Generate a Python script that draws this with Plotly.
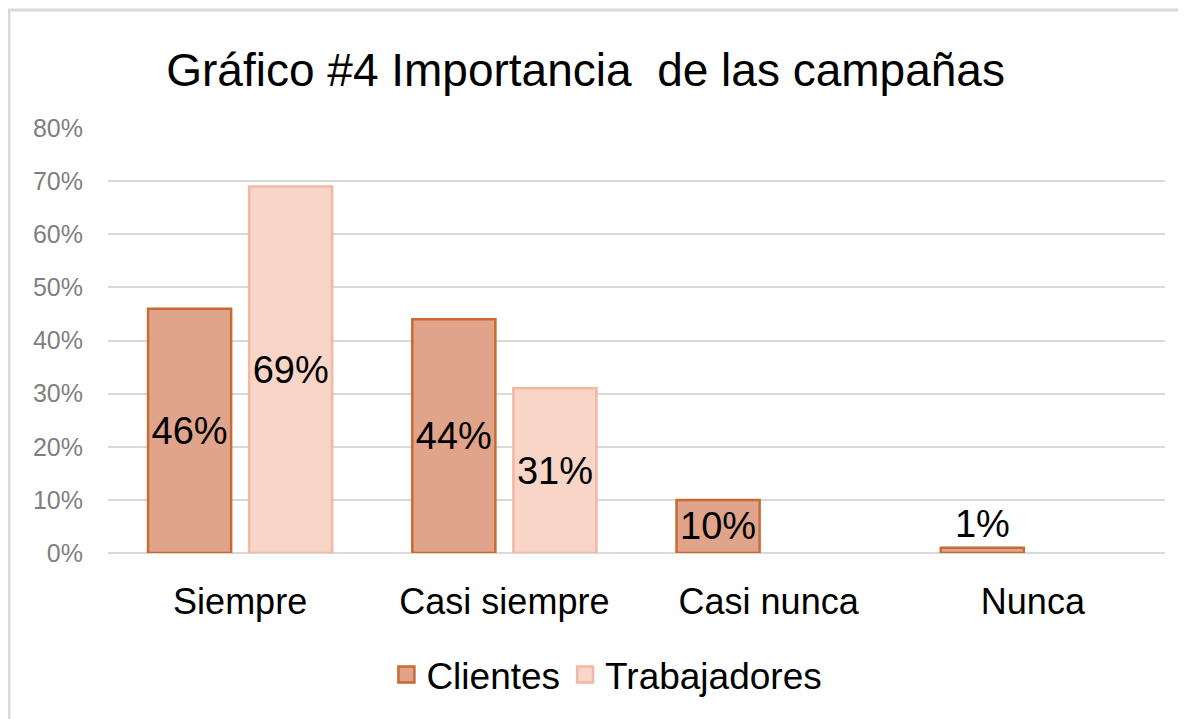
import plotly.graph_objects as go

categories = ["Siempre", "Casi siempre", "Casi nunca", "Nunca"]
clientes = [0.46, 0.44, 0.10, 0.01]
trabajadores = [0.69, 0.31, None, None]
clientes_labels = ["46%", "44%", "10%", "1%"]
trabajadores_labels = ["69%", "31%", "", ""]

FONT = "Liberation Sans, Arial, sans-serif"
C_FILL, C_LINE = "#e0a48b", "#c96a34"
T_FILL, T_LINE = "#f9d5c8", "#f1b9a5"

fig = go.Figure()
fig.add_trace(go.Bar(
    name="Clientes", x=categories, y=clientes, showlegend=False,
    text=clientes_labels, textposition=["inside", "inside", "inside", "outside"],
    insidetextanchor="middle", constraintext="none", cliponaxis=False, textangle=0,
    textfont=dict(family=FONT, size=38, color="#000000"),
    marker=dict(color=C_FILL, line=dict(color=C_LINE, width=2.5)),
))
fig.add_trace(go.Bar(
    name="Trabajadores", x=categories, y=trabajadores, showlegend=False,
    text=trabajadores_labels, textposition="inside",
    insidetextanchor="middle", constraintext="none", cliponaxis=False, textangle=0,
    textfont=dict(family=FONT, size=38, color="#000000"),
    marker=dict(color=T_FILL, line=dict(color=T_LINE, width=2.5)),
))
# legend entries with larger square keys
for nm, fc, lc in [("Clientes", C_FILL, C_LINE), ("Trabajadores", T_FILL, T_LINE)]:
    fig.add_trace(go.Scatter(
        name=nm, x=[None], y=[None], mode="markers",
        marker=dict(symbol="square", size=16, color=fc, line=dict(color=lc, width=2.5)),
    ))

fig.update_layout(
    width=1186, height=719,
    margin=dict(l=100, r=29, t=120, b=174),
    paper_bgcolor="white", plot_bgcolor="white",
    barmode="group", bargap=0.235, bargroupgap=0.178,
    uniformtext=dict(mode=False),
    title=dict(text="Gráfico #4 Importancia  de las campañas", x=0.487, xanchor="center",
               xref="container", y=0.914, yanchor="middle", yref="container",
               font=dict(family=FONT, size=46, color="#000000")),
    font=dict(family=FONT),
    legend=dict(orientation="h", x=0.472, xanchor="center", y=-0.287, yanchor="middle",
                font=dict(family=FONT, size=37, color="#000000"),
                itemwidth=30, traceorder="normal", itemsizing="trace"),
    xaxis=dict(showgrid=False, showline=False, ticks="", ticklabelstandoff=24,
               tickfont=dict(family=FONT, size=36, color="#000000")),
    yaxis=dict(range=[0, 0.8], dtick=0.1, tickformat=".0%", showgrid=True,
               gridcolor="#d9d9d9", gridwidth=1.5, zeroline=True, zerolinecolor="#d9d9d9",
               zerolinewidth=1.5, ticks="", ticklabelstandoff=24,
               tickfont=dict(family=FONT, size=25, color="#7f7f7f")),
    shapes=[
        dict(type="line", xref="paper", yref="paper", x0=-0.1, x1=1.1, y0=1.2776, y1=1.2776,
             line=dict(color="#d9d9d9", width=3)),
        dict(type="line", xref="paper", yref="paper", x0=-0.0937, x1=-0.0937, y0=-0.5, y1=1.2776,
             line=dict(color="#d9d9d9", width=3)),
    ],
)

fig.write_html("out.html")
